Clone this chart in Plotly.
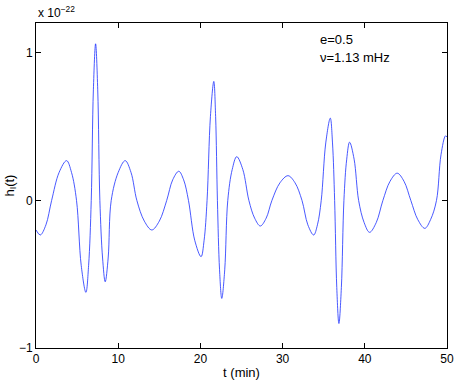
import plotly.graph_objects as go

# waveform samples (t in minutes, h in units of 1e-22)
t_min = [0.0, 0.52, 1.21, 1.9, 2.81, 3.72, 4.32, 4.93, 5.5, 6.07, 6.4, 6.72,
         6.98, 7.25, 7.51, 7.77, 8.1, 8.42, 8.78, 9.15, 10.0, 10.85, 11.56,
         12.27, 13.18, 14.09, 15.0, 15.9, 16.63, 17.37, 17.96, 18.55, 19.31,
         20.08, 20.45, 20.81, 21.22, 21.63, 21.85, 22.07, 22.33, 22.6, 22.96,
         23.33, 23.87, 24.42, 25.16, 25.9, 26.6, 27.29, 28.0, 28.7, 29.68,
         30.66, 31.51, 32.36, 33.07, 33.78, 34.24, 34.7, 35.25, 35.8, 36.07,
         36.33, 36.59, 36.85, 37.15, 37.46, 37.8, 38.15, 38.7, 39.25, 39.92,
         40.58, 41.39, 42.2, 43.07, 43.94, 44.77, 45.6, 46.45, 47.3, 48.0,
         48.72, 49.27, 49.82, 50.0]
h_val = [-0.20, -0.234, -0.165, 0.0, 0.19, 0.27, 0.19, 0.0, -0.44, -0.623, -0.44, 0.0,
         0.75, 1.062, 0.75, 0.0, -0.39, -0.551, -0.39, 0.0, 0.19, 0.27, 0.19,
         0.0, -0.14, -0.20, -0.14, 0.0, 0.14, 0.198, 0.14, 0.0, -0.27,
         -0.381, -0.27, 0.0, 0.57, 0.807, 0.57, 0.0, -0.47, -0.664, -0.47,
         0.0, 0.21, 0.297, 0.21, 0.0, -0.12, -0.173, -0.12, 0.0, 0.12,
         0.168, 0.12, 0.0, -0.165, -0.234, -0.165, 0.0, 0.39, 0.558, 0.39,
         0.0, -0.59, -0.834, -0.59, 0.0, 0.28, 0.395, 0.28, 0.0, -0.15,
         -0.216, -0.15, 0.0, 0.13, 0.185, 0.13, 0.0, -0.13, -0.189, -0.13,
         0.0, 0.31, 0.438, 0.43]

x_ticks = [0, 10, 20, 30, 40, 50]
y_ticks = [-1, 0, 1]

fig = go.Figure()
fig.add_trace(go.Scatter(
    x=t_min, y=h_val, mode="lines",
    line=dict(color="#1a2eff", width=0.8, shape="spline", smoothing=1.0),
    showlegend=False,
))

axis_common = dict(
    showline=True, linecolor="black", linewidth=1, mirror="allticks",
    ticks="inside", ticklen=5, tickcolor="black", showgrid=False, zeroline=False,
    tickfont=dict(size=12, color="black"), automargin=False,
)
fig.update_xaxes(range=[0, 50], tickvals=x_ticks,
                 title=dict(text="t (min)", font=dict(size=13, color="black"), standoff=2),
                 **axis_common)
fig.update_yaxes(range=[-1, 1.203], tickvals=y_ticks, ticktext=["\u22121", "0", "1"],
                 **axis_common)

# y label placed by hand so the plot area keeps MATLAB's margins
fig.add_annotation(x=-0.063, y=0.5, xref="paper", yref="paper", xanchor="center", yanchor="middle",
                   text="h<sub>I</sub>(t)", textangle=-90, showarrow=False,
                   font=dict(size=13, color="black"))
fig.add_annotation(x=0, y=1.0, xref="paper", yref="paper", xanchor="left", yanchor="bottom",
                   text="x 10<sup>\u221222</sup>", showarrow=False, yshift=1,
                   font=dict(size=12, color="black"))
fig.add_annotation(x=34.3, y=1.09, xanchor="left", yanchor="middle", text="e=0.5",
                   showarrow=False, font=dict(size=13, color="black"))
fig.add_annotation(x=34.3, y=0.97, xanchor="left", yanchor="middle", text="\u03bd=1.13 mHz",
                   showarrow=False, font=dict(size=13, color="black"))

fig.update_layout(
    width=458, height=382,
    margin=dict(l=36, r=11, t=23, b=34),
    paper_bgcolor="white", plot_bgcolor="white",
    font=dict(family="Liberation Sans, Arial, sans-serif", color="black", size=12),
)

# drop the browser's default 8px body margin so the figure sits at the window corner
fig.write_html("out.html", config={"displayModeBar": False},
               post_script="document.body.style.margin='0';")
